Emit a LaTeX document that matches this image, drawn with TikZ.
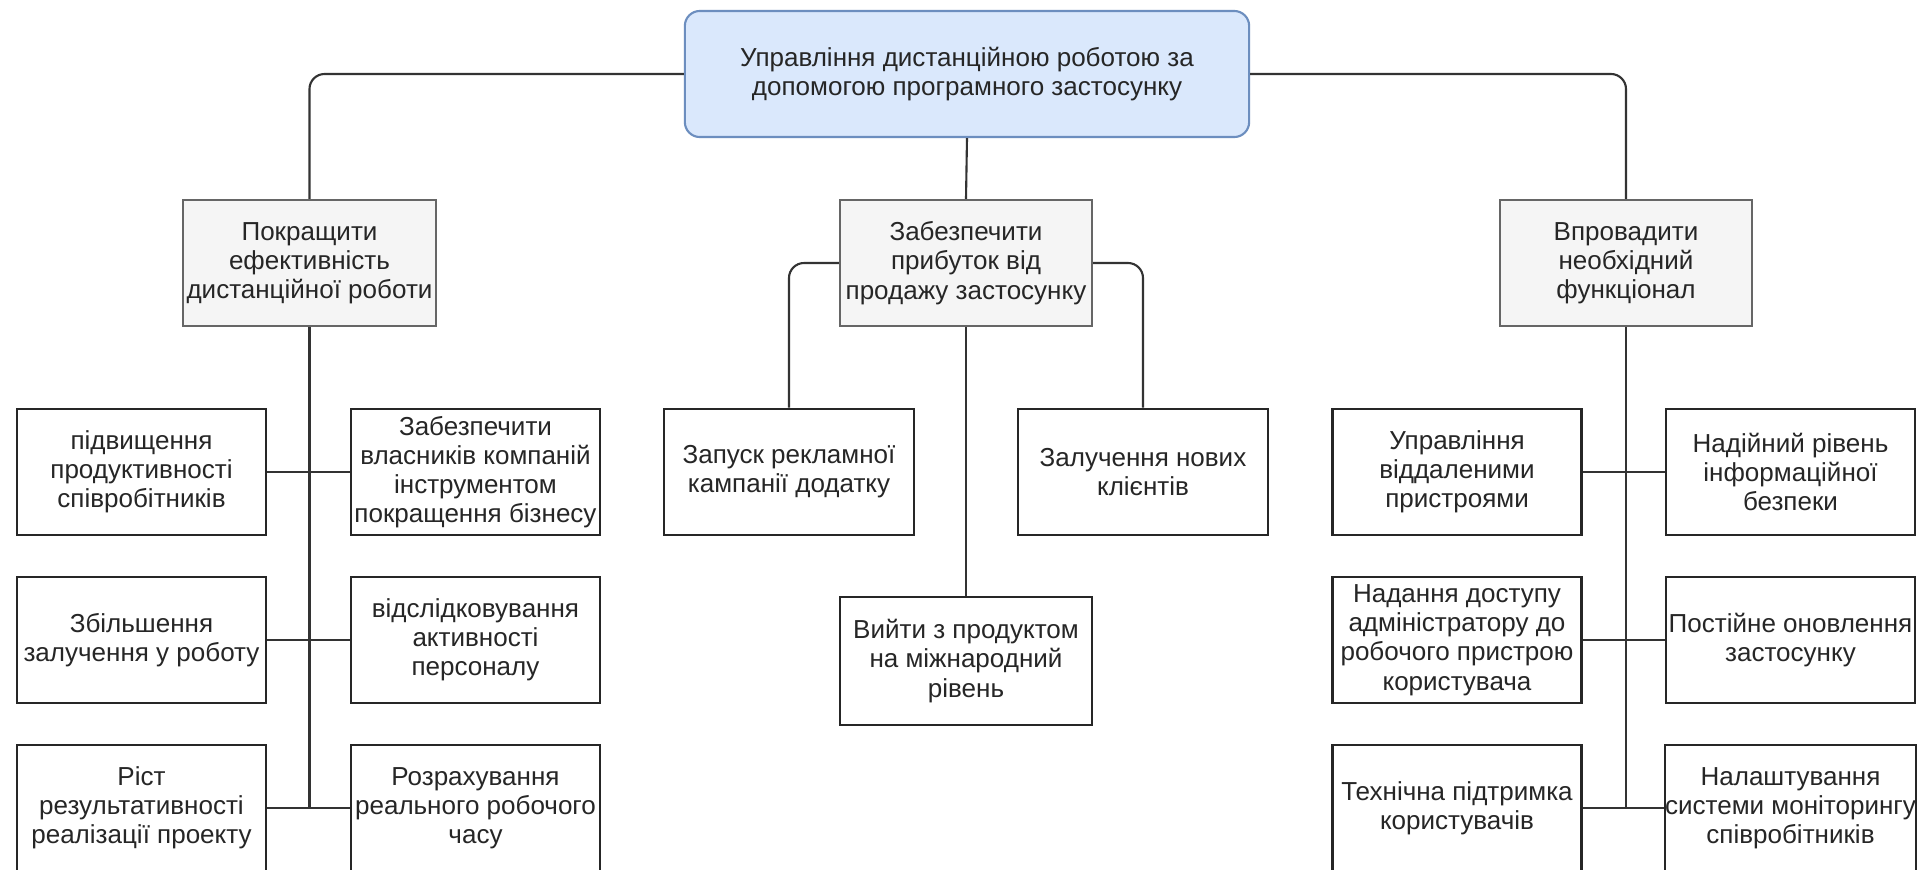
\documentclass[tikz,border=0pt]{standalone}
\usepackage{fontspec}
\setmainfont{Liberation Sans}
\begin{document}
\begin{tikzpicture}[x=0.01cm,y=-0.01cm,
  every node/.style={font=\fontsize{7.4pt}{8.3pt}\selectfont, text=black!85, align=center, inner sep=0pt,
                     execute at begin node={\rule{0pt}{7.1pt}}},
  rootbox/.style={draw=rootedge, fill=rootfill, rounded corners=0.15cm, line width=0.6pt,
                  minimum width=5.64cm, minimum height=1.26cm},
  goalbox/.style={draw=goaledge, fill=goalfill, line width=0.6pt,
                  minimum width=2.52cm, minimum height=1.26cm},
  taskbox/.style={draw=black!85, fill=white, line width=0.7pt,
                  minimum width=2.49cm, minimum height=1.26cm},
  link/.style={draw=black!80, line width=0.6pt, rounded corners=0.15cm}
]
\definecolor{rootfill}{HTML}{DAE8FC}
\definecolor{rootedge}{HTML}{6C8EBF}
\definecolor{goalfill}{HTML}{F5F5F5}
\definecolor{goaledge}{HTML}{666666}

\useasboundingbox (0,0) rectangle (1917,869);
\fill[white] (0,0) rectangle (1917,869);
\clip (0,0) rectangle (1917,869);

% top goal
\node[rootbox] (root) at (967,74) {Управління дистанційною роботою за\\допомогою програмного застосунку};

% sub-goals
\node[goalbox, minimum width=2.53cm] (g1) at (309.5,263) {Покращити\\ефективність\\дистанційної роботи};
\node[goalbox] (g2) at (966,263) {Забезпечити\\прибуток від\\продажу застосунку};
\node[goalbox] (g3) at (1626,263) {Впровадити\\необхідний\\функціонал};

% tasks of the first sub-goal
\node[taskbox] (a1) at (141.5,472) {підвищення\\продуктивності\\співробітників};
\node[taskbox] (a2) at (141.5,640) {Збільшення\\залучення у роботу};
\node[taskbox] (a3) at (141.5,808) {Ріст\\результативності\\реалізації проекту};
\node[taskbox] (b1) at (475.5,472) {Забезпечити\\власників компаній\\інструментом\\покращення бізнесу};
\node[taskbox] (b2) at (475.5,640) {відслідковування\\активності\\персоналу};
\node[taskbox] (b3) at (475.5,808) {Розрахування\\реального робочого\\часу};

% tasks of the second sub-goal
\node[taskbox, minimum width=2.50cm] (m1) at (789,472) {Запуск рекламної\\кампанії додатку};
\node[taskbox, minimum width=2.50cm] (m2) at (1143,472) {Залучення нових\\клієнтів};
\node[taskbox, minimum width=2.52cm, minimum height=1.28cm] (m3) at (966,661) {Вийти з продуктом\\на міжнародний\\рівень};

% tasks of the third sub-goal
\node[taskbox] (c1) at (1457,472) {Управління\\віддаленими\\пристроями};
\node[taskbox] (c2) at (1457,640) {Надання доступу\\адміністратору до\\робочого пристрою\\користувача};
\node[taskbox] (c3) at (1457,808) {Технічна підтримка\\користувачів};
\node[taskbox] (d1) at (1790.5,472) {Надійний рівень\\інформаційної\\безпеки};
\node[taskbox] (d2) at (1790.5,640) {Постійне оновлення\\застосунку};
\node[taskbox] (d3) at (1790.5,808) {Налаштування\\системи моніторингу\\співробітників};

% links from the top goal
\draw[link] (root.west) -| (g1.north);
\draw[link] (root.east) -| (g3.north);
\draw[link] (root.south) -- (g2.north);

% links of the first sub-goal
\foreach \t in {a1,a2,a3,b1,b2,b3}
  \draw[link, rounded corners=0] (g1.south) |- (\t);
% links of the second sub-goal
\draw[link] (g2.west) -| (m1.north);
\draw[link] (g2.east) -| (m2.north);
\draw[link] (g2.south) -- (m3.north);
% links of the third sub-goal
\foreach \t in {c1,c2,c3,d1,d2,d3}
  \draw[link, rounded corners=0] (g3.south) |- (\t);
\end{tikzpicture}
\end{document}
